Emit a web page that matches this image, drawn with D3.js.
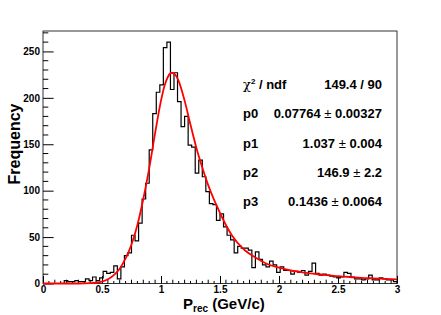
<!DOCTYPE html>
<html>
<head>
<meta charset="utf-8">
<script src="https://cdn.jsdelivr.net/npm/d3@7"></script>
<style>
  body { margin: 0; background: #fff; }
  text { font-family: "Liberation Sans", Arial, sans-serif; }
</style>
</head>
<body>
<svg id="main_svg_container" width="441" height="315"></svg>
<script>
// histogram: 100 bins on [0, 3]
var x_range = [0, 3];
var y_max = 272;
var bin_counts = [
  0, 0, 0, 0, 0, 0, 3, 2, 2, 3,
  2, 2, 5, 3, 7, 3, 6, 13, 11, 12,
  19, 5, 18, 30, 33, 52, 46, 65, 91, 108,
  144, 183, 206, 214, 254, 260, 209, 227, 196, 169,
  180, 149, 147, 119, 133, 115, 99, 86, 85, 68,
  75, 61, 52, 47, 33, 40, 38, 38, 36, 17,
  34, 26, 20, 18, 24, 20, 12, 18, 14, 14,
  10, 13, 12, 14, 9, 13, 22, 11, 9, 10,
  9, 8, 7, 6, 7, 12, 11, 7, 5, 5,
  4, 5, 9, 4, 4, 6, 5, 4, 4, 2
];

// fit curve
var fit_x = [0, 0.3, 0.4, 0.45, 0.5, 0.55, 0.6, 0.65, 0.7, 0.75, 0.8, 0.85, 0.9, 0.95,
  1.0, 1.03, 1.06, 1.09, 1.12, 1.15, 1.2, 1.25, 1.3, 1.35, 1.4, 1.45, 1.5, 1.55,
  1.6, 1.7, 1.8, 1.9, 2.0, 2.1, 2.2, 2.3, 2.4, 2.5, 2.6, 2.7, 2.8, 2.9, 3.0];
var fit_y = [0, 0, 0.3, 0.8, 2, 4.5, 9, 16, 27, 42, 63, 91, 124, 162,
  197, 213, 223, 227, 225, 218, 197, 171, 146, 125, 106, 90, 76, 63,
  52, 37, 28, 21, 17, 14, 12, 10.5, 9, 8, 7, 6, 5.5, 5, 4.5];

var x_ticks = [0, 0.5, 1, 1.5, 2, 2.5, 3];
var x_tick_labels = ["0", "0.5", "1", "1.5", "2", "2.5", "3"];
var y_ticks = [0, 50, 100, 150, 200, 250];

var stat_names = ["p0", "p1", "p2", "p3"];
var stat_values = ["0.07764", "1.037", "146.9", "0.1436"];
var stat_errors = ["0.00327", "0.004", "2.2", "0.0064"];
var chi2_text = "149.4 / 90";

var svg_width = 441, svg_height = 315;
var margin = {left: 43, right: 44, top: 31, bottom: 31.5};
var plot_w = svg_width - margin.left - margin.right;
var plot_h = svg_height - margin.top - margin.bottom;

var svg = d3.select("#main_svg_container");

var x = d3.scaleLinear().domain(x_range).range([margin.left, margin.left + plot_w]);
var y = d3.scaleLinear().domain([0, y_max]).range([margin.top + plot_h, margin.top]);

drawAxes();
drawHistogram();
drawFit();
drawStats();
drawLabels();


function drawAxes() {
  // frame
  svg.append("rect")
      .attr("x", margin.left)
      .attr("y", margin.top)
      .attr("width", plot_w)
      .attr("height", plot_h)
      .attr("fill", "none")
      .attr("stroke", "#333")
      .attr("stroke-width", 1);

  var y_minor = d3.range(0, y_max, 10).filter(function(d) { return d % 50 != 0; });
  var x_minor = d3.range(0, 60).map(function(i) { return i * 0.05; })
      .filter(function(d, i) { return i % 10 != 0; });

  var y_axis = d3.axisLeft(y).tickValues(y_ticks).tickSize(-plot_w * 0.03).tickFormat(d3.format("d"));
  var gy = svg.append("g")
      .attr("transform", "translate(" + margin.left + ",0)")
      .call(y_axis);
  gy.append("g").selectAll("line")
      .data(y_minor)
      .join("line")
      .attr("x1", 0).attr("x2", plot_w * 0.015)
      .attr("y1", function(d) { return y(d); })
      .attr("y2", function(d) { return y(d); })
      .attr("stroke", "#000");

  var x_axis = d3.axisBottom(x).tickValues(x_ticks).tickSize(-plot_h * 0.03)
      .tickFormat(function(d, i) { return x_tick_labels[i]; });
  var gx = svg.append("g")
      .attr("transform", "translate(0," + (margin.top + plot_h) + ")")
      .call(x_axis);
  gx.append("g").selectAll("line")
      .data(x_minor)
      .join("line")
      .attr("x1", function(d) { return x(d); })
      .attr("x2", function(d) { return x(d); })
      .attr("y1", 0)
      .attr("y2", function(d, i) { return (i % 2 == 1) ? -plot_h * 0.015 : -plot_h * 0.01; })
      .attr("stroke", "#000");

  [gx, gy].forEach(function(g) {
    g.select(".domain").remove();
    g.selectAll(".tick line").attr("stroke", "#000");
    g.selectAll("text")
        .attr("fill", "#000")
        .style("font-size", "10px")
        .style("font-weight", "bold")
        .style("font-family", "'Liberation Sans', Arial, sans-serif");
  });
  gy.selectAll(".tick text").attr("x", -3);
  gx.selectAll(".tick text").attr("y", 2);
}


function drawHistogram() {
  var bin_w = (x_range[1] - x_range[0]) / bin_counts.length;
  var pts = [[x_range[0], 0]];
  bin_counts.forEach(function(c, i) {
    pts.push([x_range[0] + i * bin_w, c]);
    pts.push([x_range[0] + (i + 1) * bin_w, c]);
  });
  pts.push([x_range[1], 0]);

  var line = d3.line()
      .x(function(d) { return x(d[0]); })
      .y(function(d) { return y(d[1]); });

  svg.append("path")
      .attr("d", line(pts))
      .attr("fill", "none")
      .attr("stroke", "#000")
      .attr("stroke-width", 1.2);
}


function drawFit() {
  var line = d3.line()
      .x(function(d, i) { return x(fit_x[i]); })
      .y(function(d) { return y(d); })
      .curve(d3.curveMonotoneX);

  svg.append("path")
      .attr("d", line(fit_y))
      .attr("fill", "none")
      .attr("stroke", "#f00")
      .attr("stroke-width", 1.8);
}


function drawStats() {
  var left_x = 243, right_x = 382, row0 = 89, row_h = 29.3;
  var g = svg.append("g")
      .style("font-size", "13px")
      .style("font-weight", "bold")
      .attr("fill", "#000");

  var chi = g.append("text").attr("x", left_x).attr("y", row0);
  chi.append("tspan").text("\u03c7").style("font-weight", "normal").style("font-family", "'DejaVu Serif', serif");
  chi.append("tspan").text("2").attr("dy", -5).style("font-size", "8px");
  chi.append("tspan").text(" / ndf").attr("dy", 5);

  g.append("text")
      .attr("x", right_x).attr("y", row0)
      .attr("text-anchor", "end")
      .text(chi2_text);

  stat_names.forEach(function(name, i) {
    var yy = row0 + (i + 1) * row_h;
    g.append("text").attr("x", left_x).attr("y", yy).text(name);
    var t = g.append("text")
        .attr("x", right_x).attr("y", yy)
        .attr("text-anchor", "end");
    t.append("tspan").text(stat_values[i] + " ");
    t.append("tspan").text("\u00b1").style("font-weight", "normal");
    t.append("tspan").text(" " + stat_errors[i]);
  });
}


function drawLabels() {
  svg.append("text")
      .attr("transform", "translate(20,144) rotate(-90)")
      .attr("text-anchor", "middle")
      .style("font-size", "16px")
      .style("font-weight", "bold")
      .text("Frequency");

  var t = svg.append("text")
      .attr("x", 183)
      .attr("y", 309)
      .style("font-size", "15px")
      .style("font-weight", "bold");
  t.append("tspan").text("P");
  t.append("tspan").text("rec").attr("dy", 3).style("font-size", "10px");
  t.append("tspan").text(" (GeV/c)").attr("dy", -3);
}
</script>
</body>
</html>
